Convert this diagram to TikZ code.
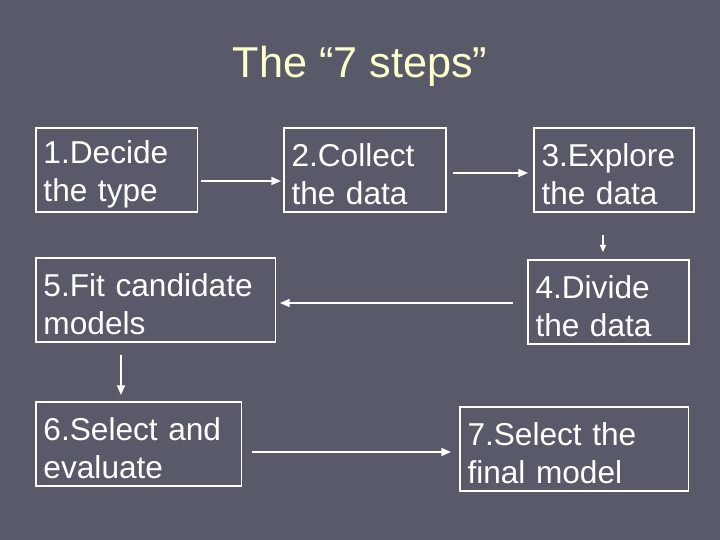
\documentclass[tikz,border=0pt]{standalone}
\usepackage{fontspec}
\setmainfont{Liberation Sans}
\usetikzlibrary{arrows.meta}
\definecolor{slidebg}{RGB}{88,90,106}
\definecolor{titlecream}{RGB}{255,255,204}

\begin{document}
\begin{tikzpicture}[x=0.02cm,y=-0.02cm,
  stepbox/.style={rectangle,draw=white,line width=0.6pt,text=white,anchor=north west,
    inner xsep=0.15cm,inner ysep=0pt,outer sep=0pt,minimum height=1.68cm,align=left,
    font=\fontsize{18}{21.6}\selectfont,execute at begin node={\rule{0pt}{17.5pt}}},
  flow/.style={draw=white,line width=1pt,-{Triangle[length=5.5pt,width=4.5pt]}},
  thinflow/.style={draw=white,line width=0.6pt,-{Triangle[length=4pt,width=3.5pt]}}]
\fill[slidebg] (0,0) rectangle (720,540);
\useasboundingbox (0,0) rectangle (720,540);

\node[font=\fontsize{24.6}{28}\selectfont,text=titlecream,anchor=base] (title) at (360,78) {The “7 steps”};

% top row
\node[stepbox,text width=2.94cm] (decide) at (36,128) {1.Decide\\the type};
\node[stepbox,text width=2.94cm] (collect) at (284,128) {2.Collect\\the data};
\node[stepbox,text width=2.90cm] (explore) at (534,128) {3.Explore\\the data};
% middle row
\node[stepbox,text width=4.50cm] (fit) at (36,258) {5.Fit candidate\\models};
\node[stepbox,text width=2.92cm] (divide) at (528,260) {4.Divide\\the data};
% bottom row
\node[stepbox,text width=3.82cm] (select) at (36,402) {6.Select and\\evaluate};
\node[stepbox,text width=4.28cm] (final) at (460,407) {7.Select the\\final model};

\draw[flow] ([shift={(3,11)}]decide.east) -- ([shift={(-3,11)}]collect.west);
\draw[flow] ([shift={(7,3)}]collect.east) -- ([shift={(-6,3)}]explore.west);
\draw[thinflow] ([shift={(-11,23)}]explore.south) -- ([shift={(-5.5,-8)}]divide.north);
\draw[flow] ([shift={(-15,1)}]divide.west) -- ([shift={(4,3)}]fit.east);
\draw[flow] ([shift={(-35,13)}]fit.south) -- ([shift={(-18,-7)}]select.north);
\draw[flow] ([shift={(10,8)}]select.east) -- ([shift={(-9,3)}]final.west);

\end{tikzpicture}
\end{document}
